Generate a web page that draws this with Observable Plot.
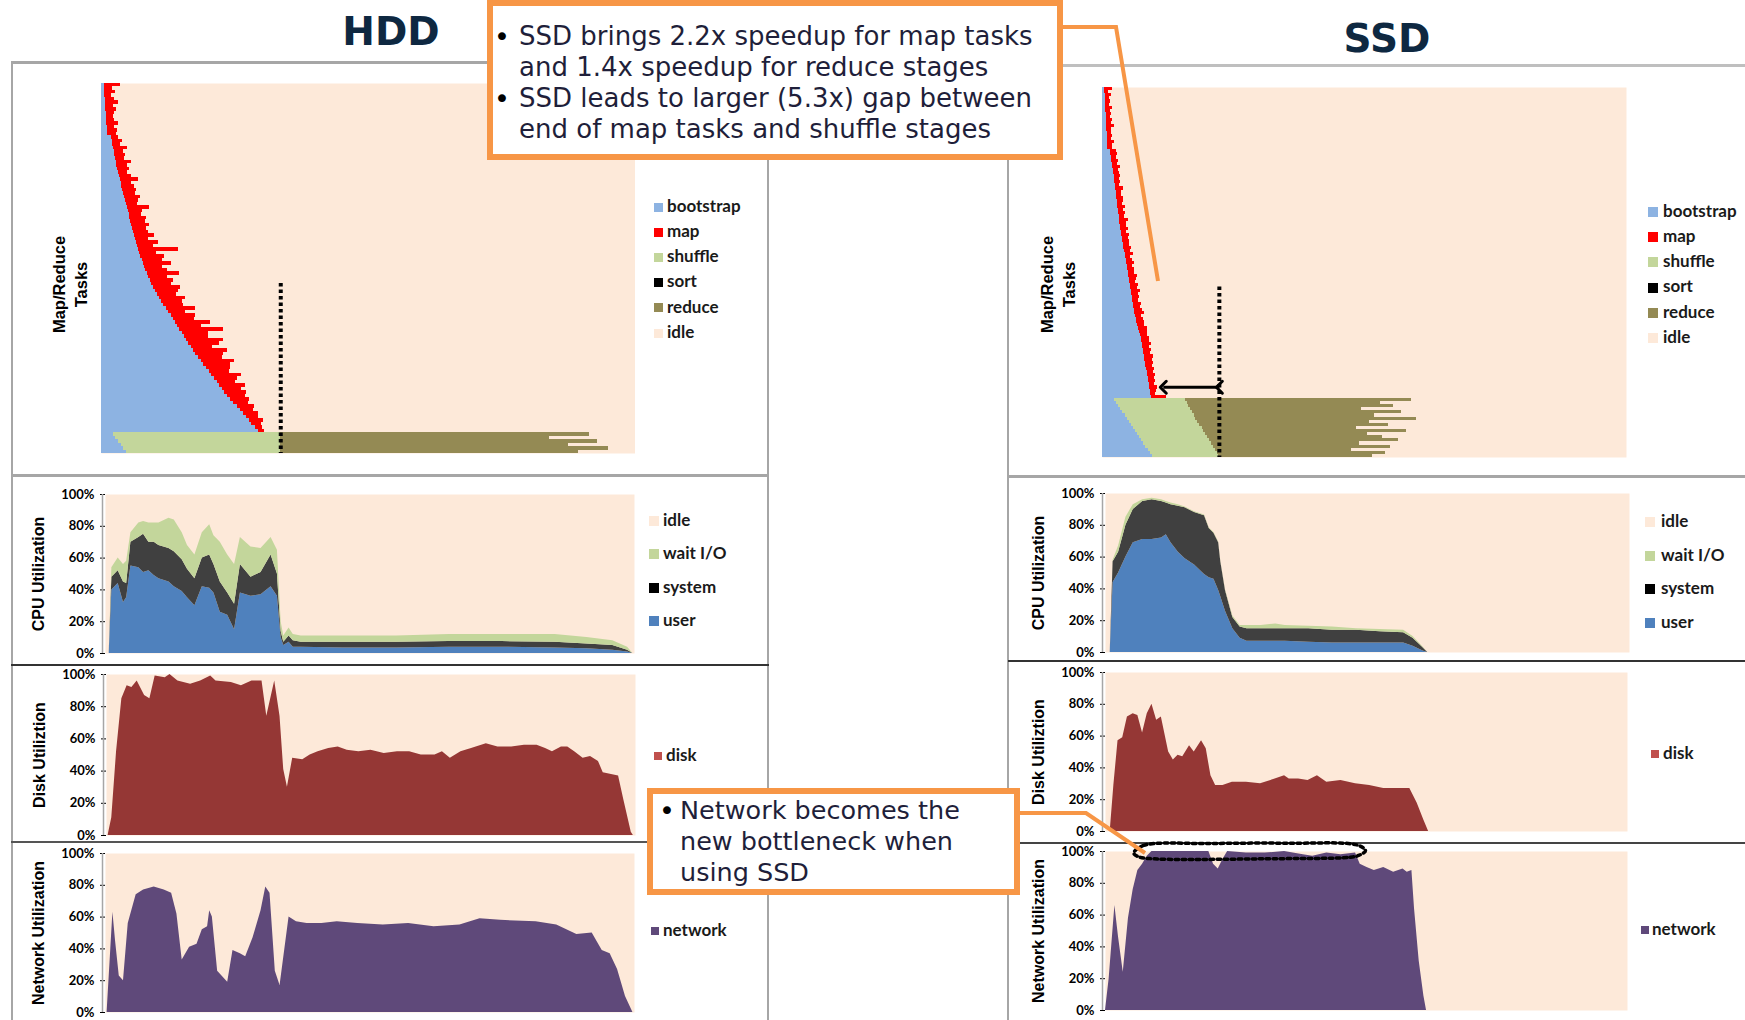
<!DOCTYPE html>
<html><head><meta charset="utf-8">
<script src="https://cdn.jsdelivr.net/npm/d3@7"></script>
<script src="https://cdn.jsdelivr.net/npm/@observablehq/plot@0.6"></script>
<style>
body{margin:0;background:#fff;}
#page{position:relative;width:1745px;height:1020px;overflow:hidden;background:#fff;font-family:"DejaVu Sans",sans-serif;}
.callout{position:absolute;box-sizing:border-box;border:6px solid #f79646;background:#fff;z-index:2;}
.ctext{position:absolute;font-family:"DejaVu Sans",Verdana,sans-serif;font-size:25.5px;line-height:31px;color:#1f1f3a;white-space:nowrap;z-index:3;}
.bullet{position:absolute;font-family:"DejaVu Sans",sans-serif;font-size:27px;line-height:31px;color:#000;z-index:3;}
.title{position:absolute;font-family:"DejaVu Sans",sans-serif;font-weight:bold;font-size:39px;line-height:1;color:#0e2841;text-align:center;width:200px;}
</style></head><body><div id="page"></div>
<script>
// ================= DATA =================
const stageNames = ["bootstrap","map","shuffle","sort","reduce","idle"];
const stageColors = ["#8db3e2","#ff0000","#c3d69b","#000000","#948a54","#fde9d9"];
const idleColor = "#fde9d9";

// HDD task timeline (time in % of panel width)
const hddMapBoot = [0.5,0.5,0.6,0.6,0.7,0.7,0.8,0.8,0.9,0.9,
 1.0,1.0,1.1,1.1,1.2,1.8,2.0,2.1,2.3,2.4,
 2.5,2.6,2.8,2.9,3.0,3.2,3.3,3.5,3.7,3.8,
 4.0,4.2,4.3,4.5,4.7,4.8,5.0,5.2,5.3,5.5,
 5.6,5.8,6.0,6.2,6.4,6.6,6.8,7.0,7.2,7.4,
 7.6,7.9,8.1,8.3,8.6,8.8,9.1,9.4,9.8,10.2,
 10.5,10.9,11.2,11.7,12.2,12.6,13.1,13.5,13.9,14.3,
 14.7,15.1,15.5,15.9,16.3,16.8,17.2,17.7,18.2,18.7,
 19.2,19.7,20.2,20.7,21.2,21.7,22.2,22.6,23.1,23.7,
 24.2,24.8,25.4,26.0,26.6,27.2,27.7,28.2,28.8,29.4];
const hddMapDur = [3.0,1.5,2.0,1.2,1.8,2.5,1.4,2.0,1.6,1.3,
 1.5,2.2,1.3,1.9,1.6,1.4,2.0,1.5,2.6,1.8,
 2.0,1.7,2.8,1.9,2.2,1.6,2.4,3.5,2.0,2.3,
 2.6,2.1,3.0,2.4,2.0,4.2,2.6,2.3,3.1,2.8,
 3.4,2.6,2.9,3.8,2.5,4.0,3.0,7.5,3.2,4.5,
 3.8,5.2,3.4,4.0,6.0,3.6,4.4,3.8,5.0,4.2,
 3.5,4.8,4.0,3.6,5.5,3.2,4.6,3.9,6.5,4.4,
 8.2,5.0,4.6,7.0,5.8,4.0,6.4,5.2,4.5,6.2,
 5.0,4.4,3.8,5.6,4.2,3.5,4.8,3.6,4.0,3.2,
 3.5,2.8,3.2,2.5,2.9,2.2,2.6,1.8,1.4,1.2];
const hddRedBoot = [2.2,2.7,3.2,3.7,4.1,4.6];
const hddRedShuffleEnd = [33.6,33.6,33.6,33.6,33.6,33.6];
const hddRedEnd = [91.5,84.0,93.0,87.5,95.0,89.5];
const hddSortLineX = [33.6];
const hddSortLineFromRow = 57.3;

// SSD task timeline
const ssdMapBoot = [0.4,0.4,0.5,0.5,0.5,0.6,0.6,0.6,0.7,0.7,
 0.7,0.8,0.8,0.8,0.9,0.9,0.9,1.0,1.0,1.0,
 1.5,1.6,1.7,1.8,1.9,2.0,2.1,2.1,2.2,2.3,
 2.3,2.4,2.5,2.6,2.6,2.7,2.8,2.9,2.9,3.0,
 3.1,3.2,3.3,3.3,3.4,3.5,3.6,3.7,3.8,3.9,
 4.0,4.1,4.2,4.3,4.4,4.5,4.6,4.7,4.8,4.9,
 5.0,5.1,5.2,5.3,5.4,5.5,5.6,5.7,5.8,5.9,
 6.0,6.1,6.2,6.3,6.4,6.5,6.7,6.9,7.1,7.3,
 7.4,7.5,7.6,7.7,7.8,7.9,8.0,8.1,8.2,8.3,
 8.4,8.5,8.6,8.7,8.8,8.9,9.0,9.1,9.2,9.3];
const ssdMapDur = [1.6,0.8,1.2,0.9,1.1,0.7,1.3,0.9,1.0,0.8,
 1.2,0.9,1.4,1.0,0.8,1.1,0.9,1.3,1.0,0.9,
 1.1,1.3,0.9,1.2,1.0,1.4,0.9,1.1,1.3,1.0,
 1.2,0.9,1.5,1.1,1.0,1.3,1.2,0.9,1.4,1.1,
 1.3,1.0,1.6,1.2,1.1,1.4,1.0,1.5,1.2,1.3,
 1.1,1.4,1.2,1.7,1.0,1.3,1.5,1.1,1.4,1.2,
 1.6,1.3,1.1,1.5,1.2,1.8,1.3,1.4,1.1,1.6,
 1.3,1.5,1.9,1.2,1.4,1.6,1.3,1.7,1.5,1.2,
 1.6,1.4,1.8,1.3,1.5,1.2,1.7,1.4,1.6,1.3,
 1.5,1.2,1.6,1.3,1.4,1.1,1.5,1.2,1.0,3.0];
const ssdRedBoot = [2.3,2.7,3.1,3.5,3.9,4.3,4.7,5.1,5.5,5.9,6.3,6.7,7.1,7.5,7.9,8.3,8.7,9.1,9.5];
const ssdRedShuffleEnd = [15.9,16.2,16.4,16.8,17.1,17.5,17.8,18.1,18.6,19.0,19.3,19.7,20.0,20.4,20.8,21.2,21.5,21.9,22.2];
const ssdRedEnd = [58.9,53.0,55.5,49.5,57.0,52.0,60.0,51.0,54.5,48.5,58.0,50.5,53.5,56.5,49.0,55.0,47.5,54.0,51.5];
const ssdSortLineX = [22.3];
const ssdSortLineFromRow = 64.2;
const ssdGapArrowX = [22.3, 11.6];
const ssdGapArrowRow = 96.4;

// CPU utilization
const cpuSeries = ["user","system","wait I/O"];
const cpuColors = ["#4f81bd","#404040","#c3d69b"];
const cpuLegendNames = ["idle","wait I/O","system","user"];
const cpuLegendColors = ["#fde9d9","#c3d69b","#000000","#4f81bd"];
const yTicks = [0,20,40,60,80,100];
const yTickLabels = ["0%","20%","40%","60%","80%","100%"];

const hddCpuT = [0,0.7,1.2,2.4,3.4,4.0,4.8,6.3,7.2,8.2, 9.2,10.1,12.0,13.0,14.5,15.5,16.9,18.3,19.7,20.5,
 21.7,23.1,24.4,25.5,27.5,29.4,31.3,32.5,33.2,33.7, 34.7,35.5,37,45,55,65,75,85,91,95.9, 98.7,99.7];
const hddCpuUser = [0,0,40,44,32,35,55,54,51,52, 49,47,45,42,39,35,30,42,41,38, 26,24,15,38,36,37,42,36,10,5, 7,4,4,3.5,3.5,4,4,3.5,3,2, 1,0];
const hddCpuSystem = [0,0,8,8,13,9,15,19,24,18, 21,21,21,22,20,18,17,18,21,18, 19,14,16,18,12,14,20,14,4,2, 4,4,3,3.5,3.5,3.5,3.5,3.5,3,3, 1,0];
const hddCpuWait = [0,0,6,8,11,14,6,9,8,12, 12,14,19,20,17,15,15,16,19,18, 25,24,25,17,19,15,11,15,6,4, 5,4,4,4,4,4.5,4.5,5,4,3, 2,0];

const ssdCpuT = [0,0.9,1.45,2.5,3.9,5.3,7.1,8.9,10.7,11.6, 12.5,13.9,15.2,17.0,18.9,19.8,20.7,21.6,22.0,22.9,
 24.3,25.7,27.0,29.7,32.5,34.3,38.8,43.3,47.9,52.4, 56.9,58.7,60.6,61.5];
const ssdCpuUser = [0,0,44,50,60,69,71,71,72,74, 69,63,59,55,49,47,46,39,35,26, 15,9,7,7,7,7,6.5,6,6,6, 6,4,1,0];
const ssdCpuSystem = [0,0,13,13,20,21,24,25,23,20, 24,29,32,33,37,31,29,30,22,13, 7,7,8,8,8,8,8.5,8,8,7, 6.5,5,2,0];
const ssdCpuWait = [0,0,1,4,5,3,1,1,1,1, 1,1,0.5,0.5,0.5,0.5,0.5,0.5,0.5,0.5, 1,1,2,2,3,2,1.5,2,1,1.5, 1.5,1,0.5,0];

// Disk utilization
const diskSeries = ["disk"];
const diskColors = ["#953735"];
const diskSwatch = ["#c0504d"];
const hddDiskT = [0,0.3,1.0,1.9,2.9,3.9,4.8,5.8,7.2,8.2, 9.2,11.1,12.0,13.5,15.9,17.8,19.7,20.7,23.6,25.5,
 27.5,29.4,30.3,31.8,32.8,33.5,34.2,35.2,37.1,38.5, 40.0,42.0,43.8,45.5,47.7,50.0,52.5,55.0,57.3,59.5,
 62.1,63.5,65.0,67.0,69.0,71.8,74.0,76.6,79.0,81.4, 83.0,84.3,86.0,87.2,88.5,90.1,91.5,93.0,93.9,96.8, 97.8,99.2,99.6];
const hddDisk = [0,0,11,52,85,93,92,96,87,85, 99,98,100,96,94,96,99,96,95,93,
 96,96,74,96,74,41,30,48,47,50, 52,54,55,53,52,53,51,52,52,50,
 50,52,48,52,54,57,55,55,56,56, 54,52,55,55,52,48,49,46,39,37, 22,2,0];
const ssdDiskT = [0,0.9,1.6,2.4,3.3,4.2,5.3,6.2,7.1,8.0, 8.9,9.8,10.7,12.1,13.0,13.9,14.8,16.1,17.0,18.4,
 19.3,20.2,21.1,22.5,24.3,27.0,29.7,32.5,34.3,35.2, 37.0,38.8,40.6,42.4,45.1,47.9,50.6,53.3,56.1,58.3, 59.7,61.0,61.9];
const ssdDisk = [0,0,29,57,59,72,74,73,62,74, 80,70,72,50,45,48,47,54,50,57,
 52,35,29,29,31,31,30,33,35,33, 33,32,35,31,32,30,29,27,27,27, 18,7,0];

// Network utilization
const netSeries = ["network"];
const netColors = ["#5f497a"];
const hddNetT = [0,0.3,1.0,1.4,1.9,2.6,3.4,4.3,5.8,7.2, 9.2,11.1,12.5,13.5,14.5,15.9,17.3,18.3,19.3,19.7,
 20.2,21.2,23.1,24.1,25.5,26.5,27.9,29.4,30.3,31.1, 32.1,33.0,34.7,36.1,38.1,40.9,43.8,47.7,52.5,57.3,
 62.1,67.0,70.8,74.7,81.4,85.3,89.1,92.0,93.9,95.4, 96.8,98.3,99.7];
const hddNet = [0,0,40,63,45,23,20,56,74,77, 79,77,75,62,33,41,43,52,54,64,
 60,26,19,39,37,35,47,64,79,75, 26,17,60,57,56,56,57,56,55,56,
 54,55,59,58,57,55,49,50,39,37, 27,10,0];
const ssdNetT = [0,0.7,1.8,2.5,3.4,4.4,5.3,6.2,7.1,8.0, 8.9,12.0,15.0,19.8,20.7,21.6,22.5,23.4,27.0,30.6,
 34.3,37.9,39.7,42.4,45.1,47.9,48.8,50.1,51.5,53.3, 55.2,57.0,57.8,58.7,59.2,60.1,61.0,61.5];
const ssdNet = [0,20,66,46,24,58,76,88,92,97, 100,100,100,100,92,89,95,100,99,99,
 100,98,97,99,98,99,92,90,88,90, 87,89,87,88,64,31,9,0];
// dotted outline around the saturated network region (time %, utilization %)
const ssdNoteT = [5.4,7.3,20,35,48.3,49.8,48.5,46.9,30,15,9.2,6.5];
const ssdNoteV = [99,103.8,105,105.2,104,100.5,97.5,96.4,95.4,95,95.4,96.5];

// ================= LAYOUT / DRAWING =================
const page = document.getElementById("page");
const PLOT_STYLE = "background:transparent;overflow:visible;font-family:Lato,sans-serif;font-size:13px;font-weight:bold;color:#000;";

function addDiv(css, html, z) {
  const d = document.createElement("div");
  d.style.cssText = "position:absolute;" + css + (z != null ? `z-index:${z};` : "");
  if (html != null) d.innerHTML = html;
  page.appendChild(d);
  return d;
}

function panel(area, m, opts) {
  const [x0, y0, x1, y1] = area;
  const svg = Plot.plot({
    width: x1 - x0 + m.l + m.r, height: y1 - y0 + m.t + m.b,
    marginLeft: m.l, marginRight: m.r, marginTop: m.t, marginBottom: m.b,
    style: PLOT_STYLE, ...opts
  });
  svg.style.position = "absolute";
  svg.style.left = (x0 - m.l) + "px";
  svg.style.top = (y0 - m.t) + "px";
  svg.style.zIndex = 1;
  svg.style.maxWidth = "none";
  page.appendChild(svg);
  return svg;
}

function tasksPanel(area, d, label, lab) {
  const nMap = d.boot.length, N = nMap + d.rBoot.length;
  const segs = [];
  d.boot.forEach((b, i) => {
    segs.push({x1: 0, x2: b, row: i, stage: "bootstrap"});
    segs.push({x1: b, x2: b + d.dur[i], row: i, stage: "map"});
  });
  d.rBoot.forEach((b, j) => {
    const i = nMap + j, s = d.rShuf[j];
    segs.push({x1: 0, x2: b, row: i, stage: "bootstrap"},
              {x1: b, x2: s, row: i, stage: "shuffle"},
              {x1: s, x2: d.rEnd[j], row: i, stage: "reduce"});
  });
  const marks = [
    Plot.frame({fill: idleColor, stroke: "none"}),
    Plot.rect(segs, {x1: "x1", x2: "x2", y1: "row", y2: r => r.row + 1, fill: "stage", shapeRendering: "crispEdges"}),
    Plot.ruleX(d.sortX, {y1: d.sortFrom, y2: N, stroke: stageColors[3], strokeWidth: 4, strokeDasharray: "3.5,3"}),
    Plot.text([label], {frameAnchor: "left", dx: lab.dx, dy: lab.dy, rotate: -90, textAnchor: "middle",
      fontFamily: "Liberation Sans, Arial, sans-serif", fontWeight: "bold", fontSize: 16.5, lineHeight: 1.35, fill: "#000"})
  ];
  if (d.arrowX) marks.push(Plot.link([{x1: d.arrowX[0], x2: d.arrowX[1], row: d.arrowRow}],
      {x1: "x1", x2: "x2", y1: "row", y2: "row", stroke: "#000", strokeWidth: 3, markerStart: "arrow", markerEnd: "arrow"}));
  return panel(area, {l: 80, r: 5, t: 5, b: 5}, {
    x: {domain: [0, 100], axis: null},
    y: {domain: [N, 0], axis: null},
    color: {domain: stageNames, range: stageColors},
    marks
  });
}

function utilPanel(area, title, t, names, values, colors, extra = []) {
  const rows = [];
  names.forEach((s, k) => t.forEach((tv, i) => rows.push({t: tv, series: s, value: values[k][i]})));
  return panel(area, {l: 80, r: 5, t: 10, b: 6}, {
    x: {domain: [0, 100], axis: null},
    y: {domain: [0, 100], ticks: yTicks, tickFormat: v => yTickLabels[yTicks.indexOf(v)], tickSize: 5, tickPadding: 6, label: null},
    color: {domain: names, range: colors},
    marks: [
      Plot.frame({fill: idleColor, stroke: "none"}),
      Plot.areaY(rows, {x: "t", y: "value", fill: "series", order: names}),
      Plot.ruleX([0], {dx: -3, stroke: "#a6a6a6", strokeWidth: 1.5}),
      Plot.text([title], {frameAnchor: "left", dx: -67, rotate: -90, textAnchor: "middle",
        fontFamily: "Liberation Sans, Arial, sans-serif", fontWeight: "bold", fontSize: 16, fill: "#000"}),
      ...extra
    ]
  });
}

function legend(x, y0, dy, names, colors, size, gap, fontSize) {
  names.forEach((n, i) => {
    const y = y0 + i * dy;
    addDiv(`left:${x}px;top:${y - size / 2}px;width:${size}px;height:${size}px;background:${colors[i]};`, null, 1);
    const tx = addDiv(`left:${x + size + gap}px;top:${y - fontSize * 0.6}px;font:bold ${fontSize}px Lato,sans-serif;line-height:1;color:#1a1a1a;white-space:nowrap;`, null, 1);
    tx.textContent = n;
  });
}

// frame lines
const frameLines = [
  [11, 61, 757, 3, "#a6a6a6"], [11, 61, 2, 959, "#a6a6a6"], [767, 61, 2, 959, "#a6a6a6"],
  [11, 474, 758, 3, "#a6a6a6"], [11, 664, 758, 2, "#333"], [11, 841, 758, 2, "#555"],
  [1008, 64, 737, 3, "#bfbfbf"], [1007, 64, 2, 956, "#a6a6a6"],
  [1008, 475, 737, 3, "#a6a6a6"], [1008, 660, 737, 2, "#333"], [1008, 842, 737, 2, "#444"]
];
frameLines.forEach(([x, y, w, h, c]) => addDiv(`left:${x}px;top:${y}px;width:${w}px;height:${h}px;background:${c};`, null, 0));

// titles
addDiv("left:291px;top:12px;", "HDD", 1).className = "title";
addDiv("left:1287px;top:19px;", "SSD", 1).className = "title";

// task panels
tasksPanel([100.5, 83, 634, 453], {boot: hddMapBoot, dur: hddMapDur, rBoot: hddRedBoot, rShuf: hddRedShuffleEnd,
  rEnd: hddRedEnd, sortX: hddSortLineX, sortFrom: hddSortLineFromRow}, "Map/Reduce\nTasks", {dx: -33, dy: 16});
tasksPanel([1102, 87, 1626, 457], {boot: ssdMapBoot, dur: ssdMapDur, rBoot: ssdRedBoot, rShuf: ssdRedShuffleEnd,
  rEnd: ssdRedEnd, sortX: ssdSortLineX, sortFrom: ssdSortLineFromRow,
  arrowX: ssdGapArrowX, arrowRow: ssdGapArrowRow}, "Map/Reduce\nTasks", {dx: -46, dy: 12});

// utilization panels
utilPanel([105, 494, 634, 653], "CPU Utilization", hddCpuT, cpuSeries, [hddCpuUser, hddCpuSystem, hddCpuWait], cpuColors);
utilPanel([106, 674, 635, 835], "Disk Utiliztion", hddDiskT, diskSeries, [hddDisk], diskColors);
utilPanel([105, 853, 634, 1012], "Network Utilization", hddNetT, netSeries, [hddNet], netColors);
utilPanel([1105, 493, 1629, 652], "CPU Utilization", ssdCpuT, cpuSeries, [ssdCpuUser, ssdCpuSystem, ssdCpuWait], cpuColors);
utilPanel([1105, 672, 1627, 831], "Disk Utiliztion", ssdDiskT, diskSeries, [ssdDisk], diskColors);
const noteRows = ssdNoteT.map((t, i) => ({t, v: ssdNoteV[i]}));
utilPanel([1105, 851, 1627, 1010], "Network Utilization", ssdNetT, netSeries, [ssdNet], netColors, [
  Plot.line(noteRows, {x: "t", y: "v", curve: "catmull-rom-closed", stroke: "#000", strokeWidth: 3.5, strokeDasharray: "3.5,3.5"})
]);

// legends
legend(654, 207, 25.2, stageNames, stageColors, 9, 4, 17);
legend(1648, 212, 25.2, stageNames, stageColors, 10, 5, 17);
legend(649, 521, 33.4, cpuLegendNames, cpuLegendColors, 10, 4, 17);
legend(1645, 522, 33.7, cpuLegendNames, cpuLegendColors, 10, 6, 17);
legend(654, 756, 0, diskSeries, diskSwatch, 8, 4, 17);
legend(1651, 754, 0, diskSeries, diskSwatch, 8, 4, 17);
legend(651, 931, 0, netSeries, netColors, 8, 4, 17);
legend(1641, 930, 0, netSeries, netColors, 8, 3, 17);

// callouts
const c1 = addDiv("left:487px;top:0px;width:576px;height:160px;", null); c1.className = "callout";
const c2 = addDiv("left:647px;top:788px;width:373px;height:107px;", null); c2.className = "callout";
function ctext(x, y, html, size) { const d = addDiv(`left:${x}px;top:${y}px;`, html); d.className = "ctext"; if (size) d.style.fontSize = size + "px"; }
function bullet(x, y) { const d = addDiv(`left:${x}px;top:${y}px;`, "•"); d.className = "bullet"; }
bullet(494, 21); bullet(494, 83);
ctext(519, 21, "SSD brings 2.2x speedup for map tasks<br>and 1.4x speedup for reduce stages", 26);
ctext(519, 83, "SSD leads to larger (5.3x) gap between<br>end of map tasks and shuffle stages", 26);
bullet(659, 795);
ctext(680, 795, "Network becomes the<br>new bottleneck when<br>using SSD");

// connector lines
const ns = "http://www.w3.org/2000/svg";
const ov = document.createElementNS(ns, "svg");
ov.setAttribute("width", 1745); ov.setAttribute("height", 1020);
ov.style.cssText = "position:absolute;left:0;top:0;z-index:3;pointer-events:none;";
["1063,27 1116,27 1158,281", "1020,813 1086,813 1145,853"].forEach(pts => {
  const p = document.createElementNS(ns, "polyline");
  p.setAttribute("points", pts); p.setAttribute("fill", "none");
  p.setAttribute("stroke", "#f79646"); p.setAttribute("stroke-width", 4);
  ov.appendChild(p);
});
page.appendChild(ov);
</script></body></html>
